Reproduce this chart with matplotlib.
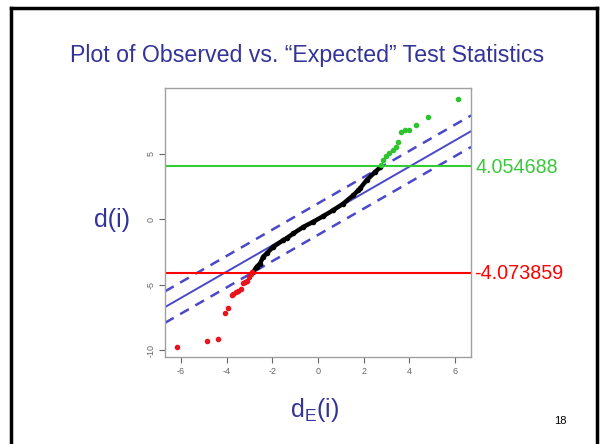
import numpy as np
import matplotlib
matplotlib.use("Agg")
import matplotlib.pyplot as plt
from matplotlib.lines import Line2D
import matplotlib.transforms as mtransforms

plt.rcParams["axes.unicode_minus"] = False

# observed vs expected statistics
black_x = [-2.83, -2.69, -2.54, -2.40, -2.25, -1.96, -1.52, -1.37, -1.08, -0.64,
           -0.21, 0.23, 0.67, 1.11, 1.55, 1.77, 1.84, 2.13, 2.50, 2.72]
black_y = [-4.01, -3.63, -3.38, -2.87, -2.61, -2.11, -1.60, -1.45, -1.09, -0.59,
           -0.20, 0.23, 0.69, 1.19, 1.83, 2.21, 2.34, 2.97, 3.60, 3.94]

red_x = [-2.89, -2.95, -3.01, -3.10, -3.20, -3.30, -3.39, -3.49, -3.59, -3.71,
         -3.78, -3.93, -4.07, -4.37, -4.88, -6.19]
red_y = [-4.01, -4.19, -4.44, -4.72, -4.80, -4.90, -5.33, -5.46, -5.58, -5.71,
         -5.79, -6.80, -7.18, -9.16, -9.29, -9.72]

green_x = [2.74, 2.86, 2.98, 3.12, 3.27, 3.42, 3.52, 3.62, 3.81, 4.00, 4.29, 4.83, 6.15]
green_y = [4.11, 4.49, 4.80, 5.05, 5.26, 5.46, 5.86, 6.65, 6.78, 6.83, 7.16, 7.75, 9.19]

upper_cut = 4.054688
lower_cut = -4.073859
band = 1.2
line_x = [-6.7, 6.7]

x_ticks = [-6, -4, -2, 0, 2, 4, 6]
y_ticks = [-10, -5, 0, 5]

blue = "#4a48c8"
navy = "#333399"

fig = plt.figure(figsize=(6, 4.44), dpi=100)

# slide frame
for xs, ys in [([11/600, 11/600], [0, 1 - 8/444]),
               ([11/600, 597/600], [1 - 8/444, 1 - 8/444]),
               ([597/600, 597/600], [1 - 8/444, 0])]:
    fig.add_artist(Line2D(xs, ys, color="black", lw=2.5, transform=fig.transFigure))

fig.text(0.512, 0.874, "Plot of Observed vs. \u201cExpected\u201d Test Statistics",
         ha="center", va="center", color=navy, fontsize=16.7, family="Liberation Sans")

ax = fig.add_axes([0.275, 0.196, 0.51, 0.606])
ax.set_xlim(-6.7, 6.7)
ax.set_ylim(-10.5, 10)

lx = np.array(line_x)
ax.plot(lx, lx, color=blue, lw=1.4)
ax.plot(lx, lx + band, color=blue, lw=1.8, ls=(0, (4, 3)))
ax.plot(lx, lx - band, color=blue, lw=1.8, ls=(0, (4, 3)))

ax.plot(black_x, black_y, color="black", lw=3.2, marker="o", ms=3, solid_capstyle="round")
ax.plot(red_x, red_y, ls="none", marker="o", ms=3, color="#e8141e")
ax.plot(green_x, green_y, ls="none", marker="o", ms=3, color="#2fc42f")

ax.axhline(upper_cut, color="#33cc33", lw=1.5)
ax.axhline(lower_cut, color="#ff0000", lw=1.5)

trans = mtransforms.blended_transform_factory(ax.transAxes, ax.transData)
ax.text(1.015, upper_cut - 0.1, f"{upper_cut:.6f}", transform=trans, color="#3cc83c",
        fontsize=14.2, ha="left", va="center", family="Liberation Sans", clip_on=False)
ax.text(1.01, lower_cut - 0.1, f"{lower_cut:.6f}", transform=trans, color="#ff0000",
        fontsize=14.2, ha="left", va="center", family="Liberation Sans", clip_on=False)

ax.set_xticks(x_ticks)
ax.set_yticks(y_ticks)
ax.set_xticklabels([str(v) for v in x_ticks], family="Liberation Sans")
ax.set_yticklabels([str(v) for v in y_ticks], rotation=90, va="center",
                   family="Liberation Sans")
ax.tick_params(colors="#666666", labelsize=6.5, length=4, width=0.8, pad=3)
for s in ax.spines.values():
    s.set_color("#a0a0a0")
    s.set_linewidth(1)

fig.text(112/600, 1 - 220/444, "d(i)", ha="center", va="center", color=navy,
         fontsize=18, family="Liberation Sans")
fig.text(315/600, 1 - 410/444, r"d$_\mathregular{E}$(i)", ha="center", va="center",
         color=navy, fontsize=18, family="Liberation Sans")
fig.text(560/600, 1 - 421/444, "18", ha="center", va="center", color="black",
         fontsize=8, family="Liberation Sans")

fig.savefig("out.png", dpi=100)
